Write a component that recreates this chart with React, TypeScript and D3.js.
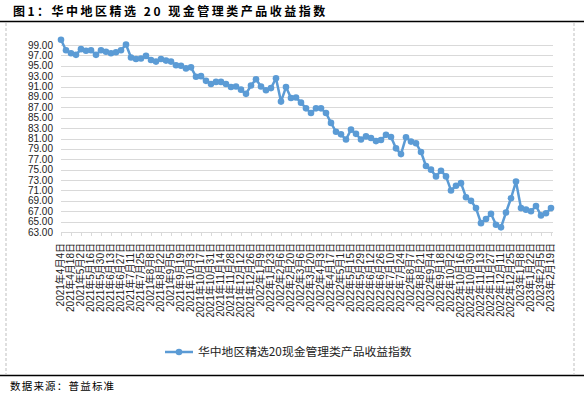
import React from 'react';
import * as d3 from 'd3';

// chart text
const TITLE = '图1：华中地区精选 20 现金管理类产品收益指数';
const SERIES_NAME = '华中地区精选20现金管理类产品收益指数';
const SOURCE = '数据来源：普益标准';

// weekly observations, 2021-04-04 .. 2023-02-19
const startDate = new Date(2021, 3, 4);
const endDate = new Date(2023, 1, 19);

const indexValues = [
  100.0, 98.0, 97.4, 97.1, 98.2, 97.9, 98.0, 97.1, 98.0, 97.7,
  97.4, 97.6, 98.0, 99.1, 96.6, 96.3, 96.4, 96.9, 96.1, 95.8,
  96.3, 96.0, 95.8, 95.1, 95.0, 94.5, 94.7, 92.9, 93.0, 92.1,
  91.5, 91.9, 91.9, 91.5, 90.9, 91.0, 90.4, 89.6, 91.2, 92.4,
  91.0, 90.3, 90.7, 92.6, 88.1, 90.9, 88.8, 88.9, 87.9, 86.8,
  85.9, 86.8, 86.8, 85.9, 84.0, 82.3, 81.8, 80.8, 82.7, 81.9,
  80.8, 81.4, 81.1, 80.5, 80.7, 81.7, 81.3, 79.1, 78.0, 81.25,
  80.4, 80.1, 78.4, 75.7, 75.0, 73.7, 74.8, 73.7, 71.0, 71.9,
  72.4, 69.7, 69.0, 67.6, 64.7, 65.5, 66.5, 64.4, 63.9, 66.75,
  69.5, 72.7, 67.6, 67.3, 67.0, 68.0, 66.2, 66.6, 67.6,
];

const yTickValues = d3.range(63, 100, 2);

const BLUE = '#5b9bd5';
const GRID = '#d9d9d9';
const LATIN = '"Liberation Sans", Arial, "Noto Sans CJK SC", sans-serif';
const CJK = '"Noto Sans CJK SC", sans-serif';

export default function App() {
  const width = 584;
  const height = 394;
  const plot = { left: 61, right: 551, top: 45, bottom: 232 };

  const dates = d3.timeWeek.range(startDate, d3.timeDay.offset(endDate, 1));
  const fmt = d3.timeFormat('%Y年%-m月%-d日');

  const x = d3.scalePoint<number>()
    .domain(d3.range(indexValues.length))
    .range([plot.left, plot.right]);
  const y = d3.scaleLinear().domain([63, 99]).range([plot.bottom, plot.top]);

  const line = d3.line<number>()
    .x((d, i) => x(i) as number)
    .y((d) => y(d));

  const labelIdx = d3.range(0, dates.length, 2);

  return (
    <svg
      width={width}
      height={height}
      style={{ position: 'absolute', left: 0, top: 0, background: '#fff' }}
    >
      {/* title and rules */}
      <text
        x={13}
        y={16}
        fontFamily={CJK}
        fontSize={12}
        fontWeight={700}
        letterSpacing={2.5}
        fill="#000"
      >
        {TITLE}
      </text>
      <line x1={0} x2={width} y1={21.5} y2={21.5} stroke="#000" strokeWidth={1.5} />
      <line x1={0} x2={width} y1={375.5} y2={375.5} stroke="#000" strokeWidth={1.5} />
      <line x1={6} x2={6} y1={23} y2={374} stroke="#bfbfbf" strokeDasharray="3,2" />
      <line x1={574} x2={574} y1={23} y2={374} stroke="#bfbfbf" strokeDasharray="3,2" />

      {/* gridlines + y labels */}
      {yTickValues.map((t) => (
        <g key={t}>
          <line
            x1={plot.left}
            x2={plot.right + 2}
            y1={Math.round(y(t)) + 0.5}
            y2={Math.round(y(t)) + 0.5}
            stroke={GRID}
            strokeWidth={1}
          />
          <text
            x={53}
            y={y(t)}
            dy="0.35em"
            textAnchor="end"
            fontFamily={LATIN}
            fontSize={10}
            fill="#222"
          >
            {t.toFixed(2)}
          </text>
        </g>
      ))}

      {/* x ticks + labels */}
      {labelIdx.map((i) => (
        <g key={i}>
          <line
            x1={Math.round(x(i) as number) + 0.5}
            x2={Math.round(x(i) as number) + 0.5}
            y1={plot.bottom}
            y2={plot.bottom + 4}
            stroke={GRID}
          />
          <text
            transform={`translate(${(x(i) as number) + 3},243) rotate(-90)`}
            textAnchor="end"
            fontFamily={LATIN}
            fontSize={10}
            fill="#222"
          >
            {fmt(dates[i])}
          </text>
        </g>
      ))}

      {/* series */}
      <path d={line(indexValues) ?? ''} fill="none" stroke={BLUE} strokeWidth={2.5} strokeLinejoin="round" />
      {indexValues.map((v, i) => (
        <circle key={i} cx={x(i)} cy={y(v)} r={3.3} fill={BLUE} />
      ))}

      {/* legend */}
      <line x1={165} x2={193} y1={352} y2={352} stroke={BLUE} strokeWidth={2.5} />
      <circle cx={179} cy={352} r={3.3} fill={BLUE} />
      <text x={198} y={356} fontFamily={CJK} fontSize={11.8} fill="#222">
        {SERIES_NAME}
      </text>

      {/* source */}
      <text x={10} y={390} fontFamily={CJK} fontSize={10.5} letterSpacing={1.2} fill="#000">
        {SOURCE}
      </text>
    </svg>
  );
}
